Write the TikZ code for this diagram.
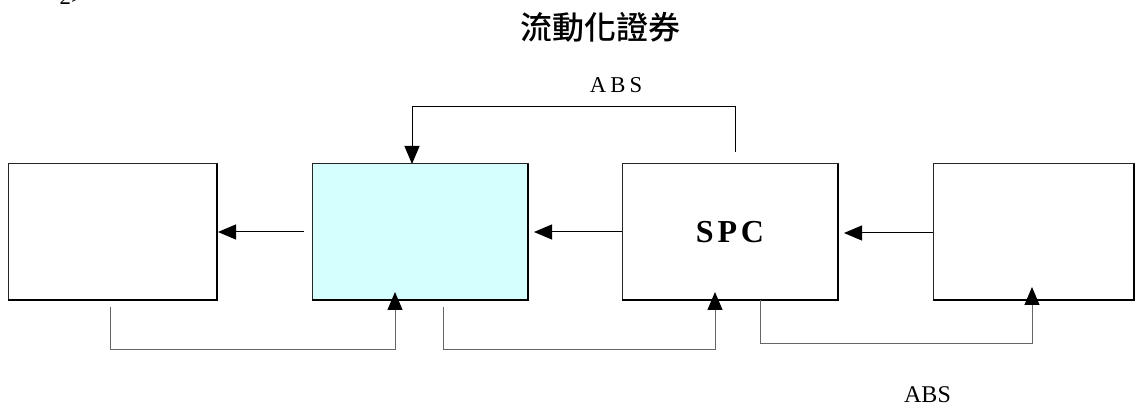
\documentclass[tikz,border=0pt]{standalone}
\usepackage{fontspec}
\setmainfont{Liberation Serif}
\newfontfamily\cjk{Noto Sans CJK TC}[BoldFont={Noto Sans CJK TC Medium}]
\usepackage{tikz}
\usetikzlibrary{arrows.meta, positioning}
\definecolor{trustfill}{HTML}{D5FFFF}
\definecolor{linkgray}{HTML}{666666}

\begin{document}
\begin{tikzpicture}[x=0.75pt, y=-0.75pt,
  box/.style={draw=black!85, line width=0.75pt, fill=white, inner sep=0pt, outer sep=0pt, minimum height=102pt},
  arr/.style={-{Triangle[length=13.5pt, width=11.25pt, color=black]}, line width=0.75pt},
  link/.style={arr, draw=linkgray}]
  % canvas in pixels of the reference (y runs down)
  \useasboundingbox (0,0) rectangle (1139,409);
  \def\yrow{232}

  % the four boxes
  \node[box, minimum width=156.75pt] (orig) at (112.5,\yrow) {};
  \node[box, fill=trustfill, minimum width=162pt] (trust) at (420,\yrow) {};
  \node[box, minimum width=162pt, font=\bfseries\fontsize{24}{28}\selectfont\addfontfeature{LetterSpace=12}] (spc) at (730,\yrow) {SPC};
  \node[box, minimum width=150.75pt] (inv) at (1033.5,\yrow) {};
  % heavy right and bottom edges
  \foreach \b in {orig, trust, spc, inv} {
    \draw[line width=1.9pt] (\b.north east) -- (\b.south east) -- (\b.south west);
  }

  % flows to the left
  \draw[arr] ([xshift=-6pt]trust.west) -- ([xshift=0.75pt]orig.east);
  \draw[arr] (spc.west) -- ([xshift=4.5pt]trust.east);
  \draw[arr] ([yshift=-0.75pt]inv.west) -- ([xshift=4.5pt, yshift=-0.75pt]spc.east);

  % ABS over the top
  \draw[arr] ([xshift=3.75pt, yshift=9pt]spc.north) -- ++(0,-45) -| ([xshift=-6pt]trust.north);

  % returns under the boxes
  \draw[link] ([xshift=-1.875pt, yshift=-5.25pt]orig.south) -- ++(0,43) -| ([xshift=-18.75pt, yshift=6pt]trust.south);
  \draw[link] ([xshift=17.25pt, yshift=-5.25pt]trust.south) -- ++(0,43) -| ([xshift=-11.25pt, yshift=6pt]spc.south);
  \draw[link] ([xshift=22.5pt]spc.south) -- ++(0,44) -| ([xshift=-1.125pt, yshift=9.75pt]inv.south);

  % texts
  \node[anchor=base west, font=\fontsize{17}{20}\selectfont] (note) at (55,5) {2>};
  \node[font=\cjk\bfseries\fontsize{24}{28}\selectfont] (title) at (600,27) {流動化證券};
  \node[font=\fontsize{17}{20}\selectfont\addfontfeature{LetterSpace=18}] (absTop) at (616,85.5) {ABS};
  \node[font=\fontsize{18}{20}\selectfont] (absBottom) at (927.5,395) {ABS};
\end{tikzpicture}
\end{document}
